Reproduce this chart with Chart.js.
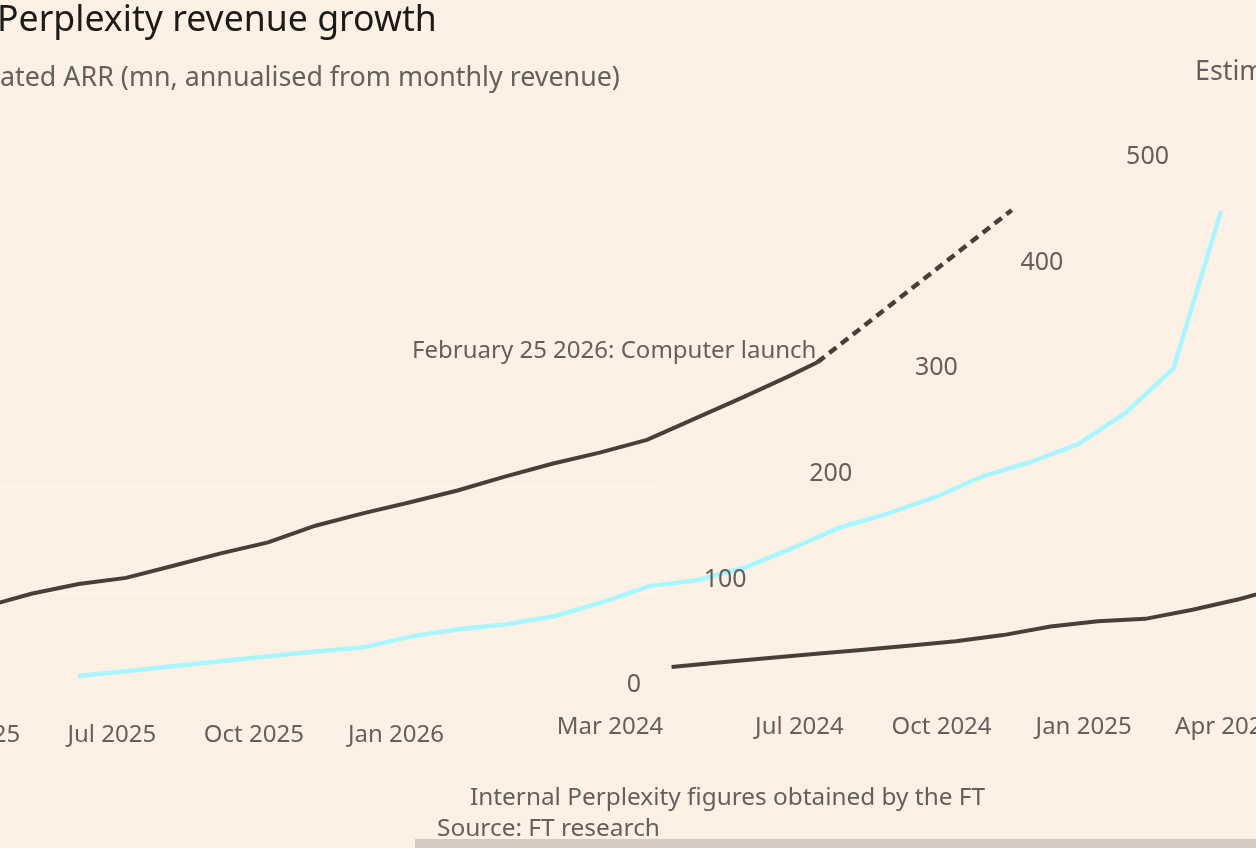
<!DOCTYPE html>
<html>
<head>
<meta charset="utf-8">
<script src="https://cdn.jsdelivr.net/npm/chart.js@4.4.1/dist/chart.umd.min.js"></script>
<style>
  html, body { margin: 0; padding: 0; background: #fdf1e6; }
  #wrap { position: relative; width: 1256px; height: 848px; overflow: hidden; background: #fdf1e6; font-family: "Noto Sans", sans-serif; }
  #c { position: absolute; left: 0; top: 0; }
  .t { position: absolute; white-space: nowrap; line-height: 1; color: #66605c; }
  .title { color: #1d1a18; }
  #bar { position: absolute; left: 415px; top: 839px; width: 841px; height: 9px; background: #d5cac0; }
</style>
</head>
<body>
<div id="wrap">
  <canvas id="c" width="1256" height="848"></canvas>
  <div class="t title" id="title">Perplexity revenue growth</div>
  <div class="t" id="subR">Estim</div>
  <div class="t" id="subL">ated ARR (mn, annualised from monthly revenue)</div>
  <div class="t" id="note">Internal Perplexity figures obtained by the FT</div>
  <div class="t" id="src">Source: FT research</div>
  <div id="bar"></div>
</div>
<script>
// months counted from Jan 2024 = 0
const xTickMonths = [2, 6, 9, 12, 15, 18, 21, 24];
const xTickLabels = ["Mar 2024", "Jul 2024", "Oct 2024", "Jan 2025", "Apr 2025", "Jul 2025", "Oct 2025", "Jan 2026"];
const yTicks = [0, 100, 200, 300, 400, 500];

// dark line, estimated ARR ($mn)
const darkMonths = [3.3, 4.3, 5.3, 6.3, 7.3, 8.3, 9.3, 10.3, 11.3, 12.3, 13.3, 14.3, 15.3, 16.3, 17.3,
  18.3, 19.3, 20.3, 21.3, 22.3, 23.3, 24.3, 25.3, 26.3, 27.3, 28.3, 29.3, 30.3, 31.3, 32.3, 32.9];
const darkArr = [21.8, 26.0, 30.0, 34.0, 37.9, 42.0, 46.2, 52.0, 60.2, 65.2, 67.4, 76.0, 86.2, 98.8, 107.9,
  113.8, 125.3, 137.0, 147.4, 163.2, 174.9, 185.4, 196.5, 209.7, 221.8, 232.4, 244.4, 264.3, 284.2, 304.8, 318];
// dashed projection after the launch
const projMonths = [32.9, 37.0];
const projArr = [318, 462];

// light blue line, monthly steps
const cyanSteps = [0, 1, 2, 3, 4, 5, 6, 7, 8, 9, 10, 11, 12, 13, 14, 15, 16, 17, 18, 19, 20, 21, 22, 23, 24];
const cyanArr = [13.3, 17.8, 22.4, 27.2, 31.9, 36.4, 40.4, 50.8, 57.6, 62.2, 69.9, 82.9, 98.4, 103.9, 116.0,
  134.3, 153.9, 167.0, 182.6, 202.6, 215.9, 232.8, 262.6, 304.5, 453.6];

const annotation = "February 25 2026: Computer launch";

// html text placement: left, vertical centre, target width
const textBoxes = [
  { id: "title", left: -3, cy: 20, w: 440 },
  { id: "subL", left: 0, cy: 78, w: 620 },
  { id: "subR", left: 1195, cy: 72, w: 0 },
  { id: "note", left: 470, cy: 797, w: 515 },
  { id: "src", left: 437, cy: 828, w: 223 }
];

function fitText() {
  let subSize = 22;
  textBoxes.forEach(b => {
    const el = document.getElementById(b.id);
    let fs = 22;
    if (b.w) {
      el.style.fontSize = "40px";
      fs = 40 * b.w / el.getBoundingClientRect().width;
      if (b.id === "subL") subSize = fs;
    } else {
      fs = subSize;
    }
    el.style.fontSize = fs.toFixed(2) + "px";
    el.style.left = b.left + "px";
    el.style.top = (b.cy - fs * 0.55).toFixed(1) + "px";
  });
}
fitText();

const pts = (xs, ys) => xs.map((x, i) => ({ x: x, y: ys[i] }));

const ftText = {
  id: "ftText",
  beforeDatasetsDraw(chart) {
    const { ctx, scales } = chart;
    ctx.save();
    ctx.strokeStyle = "rgba(255,255,255,0.35)";
    ctx.lineWidth = 1;
    yTicks.forEach(v => {
      const y = Math.round(scales.yd2.getPixelForValue(v)) + 0.5;
      ctx.beginPath();
      ctx.moveTo(0, y);
      ctx.lineTo(660, y);
      ctx.stroke();
    });
    ctx.restore();
  },
  afterDatasetsDraw(chart) {
    const { ctx, scales } = chart;
    ctx.save();
    ctx.fillStyle = "#66605c";
    ctx.font = '24px "Noto Sans"';
    ctx.textBaseline = "middle";

    // x labels, both halves of the wrapped axis
    ctx.textAlign = "center";
    xTickMonths.forEach((m, i) => {
      ctx.fillText(xTickLabels[i], scales.xd.getPixelForValue(m), scales.yd.getPixelForValue(0) + 37);
      ctx.fillText(xTickLabels[i], scales.xd2.getPixelForValue(m), scales.yd2.getPixelForValue(0) + 37);
    });

    // y labels, sheared
    ctx.textAlign = "right";
    ctx.font = '25px "Noto Sans"';
    const y0 = scales.yd.getPixelForValue(0);
    yTicks.forEach(v => {
      const y = scales.yd.getPixelForValue(v);
      ctx.fillText(String(v), 641 + (y0 - y), y - 5);
    });

    // launch note
    const last = darkMonths.length - 1;
    ctx.font = '24px "Noto Sans"';
    ctx.fillText(annotation, scales.xd2.getPixelForValue(darkMonths[last]) - 1,
      scales.yd2.getPixelForValue(darkArr[last]) - 11);
    ctx.restore();
  }
};

const dark = "#4b3e37";
const darkLine = (xAxis, yAxis) => ({
  data: pts(darkMonths, darkArr), xAxisID: xAxis, yAxisID: yAxis,
  borderColor: dark, borderWidth: 4, pointRadius: 0, tension: 0
});

new Chart(document.getElementById("c"), {
  type: "line",
  data: {
    datasets: [
      { data: pts(cyanSteps, cyanArr), xAxisID: "xc", yAxisID: "yd",
        borderColor: "#a8f6ff", borderWidth: 4.5, pointRadius: 0, tension: 0 },
      darkLine("xd", "yd"),
      darkLine("xd2", "yd2"),
      { data: pts(projMonths, projArr), xAxisID: "xd2", yAxisID: "yd2",
        borderColor: dark, borderWidth: 4.5, borderDash: [9, 6], pointRadius: 0, tension: 0 }
    ]
  },
  options: {
    responsive: false,
    animation: false,
    devicePixelRatio: 1,
    layout: { padding: 0 },
    plugins: { legend: { display: false }, tooltip: { enabled: false } },
    scales: {
      xd: { type: "linear", display: false, min: -10.88, max: 15.64 },
      xd2: { type: "linear", display: false, min: 15.64, max: 42.16 },
      xc: { type: "linear", display: false, min: -1.638, max: 24.733 },
      yd: { type: "linear", display: false, min: -149.6, max: 653.4 },
      yd2: { type: "linear", display: false, min: -142.0, max: 661.0 }
    }
  },
  plugins: [ftText]
});
</script>
</body>
</html>
